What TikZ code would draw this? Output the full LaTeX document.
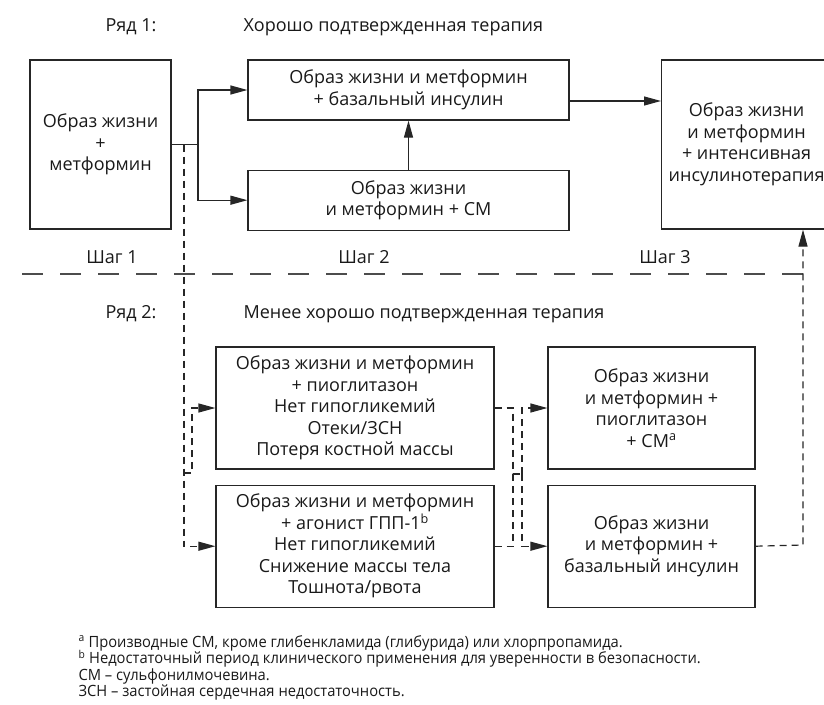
\documentclass[tikz,border=0pt]{standalone}
\usepackage{fontspec}
\setmainfont{Open Sans}
\newfontfamily\notefont[FakeStretch=0.95]{Open Sans}
\usetikzlibrary{arrows.meta,positioning}

\begin{document}
\begin{tikzpicture}[x=1pt, y=-1pt, >={Triangle[length=17pt,width=9pt]},
  every node/.style={font=\fontsize{18}{21.5}\selectfont, text=black!90},
  box/.style={draw=black!85, line width=1.2pt, align=center, inner sep=0pt},
  link/.style={draw=black!85, line width=1.2pt},
  dashln/.style={link, dash pattern=on 7pt off 5pt},
  sepline/.style={draw=black!70, line width=1.2pt, dash pattern=on 21pt off 17pt},
  note/.style={anchor=base west, font=\notefont\fontsize{15.5}{16.5}\selectfont}]
\useasboundingbox (0,0) rectangle (824,704);
% ряд 1
\node[anchor=base east] (row1) at (160,31) {Ряд 1:};
\node[anchor=base west] (row1t) at (240,31) {Хорошо подтвержденная терапия};
\node[box, minimum width=141pt, minimum height=169pt] (life) at (100.5,144.5) {Образ жизни\\+\\метформин};
\node[box, minimum width=321pt, minimum height=60pt] (basal) at (408.5,90) {Образ жизни и метформин\\+ базальный инсулин};
\node[box, minimum width=321pt, minimum height=60pt, below=49pt of basal] (su) {Образ жизни\\и метформин + СМ};
\node[box, minimum width=170pt, minimum height=169pt, anchor=west] (intens) at (661,144.5) {Образ жизни\\и метформин\\+ интенсивная\\инсулинотерапия};
\node[anchor=base] (st1) at (112,263) {Шаг 1};
\node[anchor=base] (st2) at (364,263) {Шаг 2};
\node[anchor=base] (st3) at (665,263) {Шаг 3};
\draw[sepline] (22,274) -- (812,274);
% ряд 2
\node[anchor=base east] (row2) at (160,318) {Ряд 2:};
\node[anchor=base west] (row2t) at (240,318) {Менее хорошо подтвержденная терапия};
\node[box, minimum width=278pt, minimum height=122pt] (pio) at (355,408) {Образ жизни и метформин\\+ пиоглитазон\\Нет гипогликемий\\Отеки/ЗСН\\Потеря костной массы};
\node[box, minimum width=278pt, minimum height=122pt, below=15pt of pio] (glp) {Образ жизни и метформин\\+ агонист ГПП-1\textsuperscript{b}\\Нет гипогликемий\\Снижение массы тела\\Тошнота/рвота};
\node[box, minimum width=207pt, minimum height=122pt] (piosu) at (651.5,408) {Образ жизни\\и метформин +\\пиоглитазон\\+ СМ\textsuperscript{a}};
\node[box, minimum width=207pt, minimum height=122pt, below=15pt of piosu] (basal2) {Образ жизни\\и метформин +\\базальный инсулин};
% сплошные связи
\coordinate (fork) at (198,144.5);
\draw[link] (life.east) -- (fork);
\draw[link,->] (fork) |- (basal.west);
\draw[link,->] (fork) |- (su.west);
\draw[link,->] (su) -- (basal);
\draw[link,->] ([yshift=-11pt]basal.east) -- ([yshift=-11pt]basal.east -| intens.west);
% пунктирные связи
\coordinate (d1) at (184,144.5);
\coordinate (d1s) at (184,473);
\coordinate (d1i) at (192,473);
\draw[dashln,->] (d1) |- (glp.west);
\draw[dashln,->] (d1s) -- (d1i) |- (pio.west);
\coordinate (m1) at (513,474);
\coordinate (m2) at (522,474);
\draw[dashln] (pio.east) -| (m1) -- (m2);
\draw[dashln] (glp.east) -| (m1);
\draw[dashln,->] (m2) |- (piosu.west);
\draw[dashln,->] (m2) |- (basal2.west);
\coordinate (rx) at (803,545);
\draw[dashln,->] (basal2.east) -- (rx) -- (rx |- intens.south);
% сноски
\node[note] (fna) at (75,647) {\textsuperscript{a} Производные СМ, кроме глибенкламида (глибурида) или хлорпропамида.};
\node[note] (fnb) at (75,663.5) {\textsuperscript{b} Недостаточный период клинического применения для уверенности в безопасности.};
\node[note] (fnc) at (75,680) {СМ – сульфонилмочевина.};
\node[note] (fnd) at (75,696.5) {ЗСН – застойная сердечная недостаточность.};
\end{tikzpicture}
\end{document}
